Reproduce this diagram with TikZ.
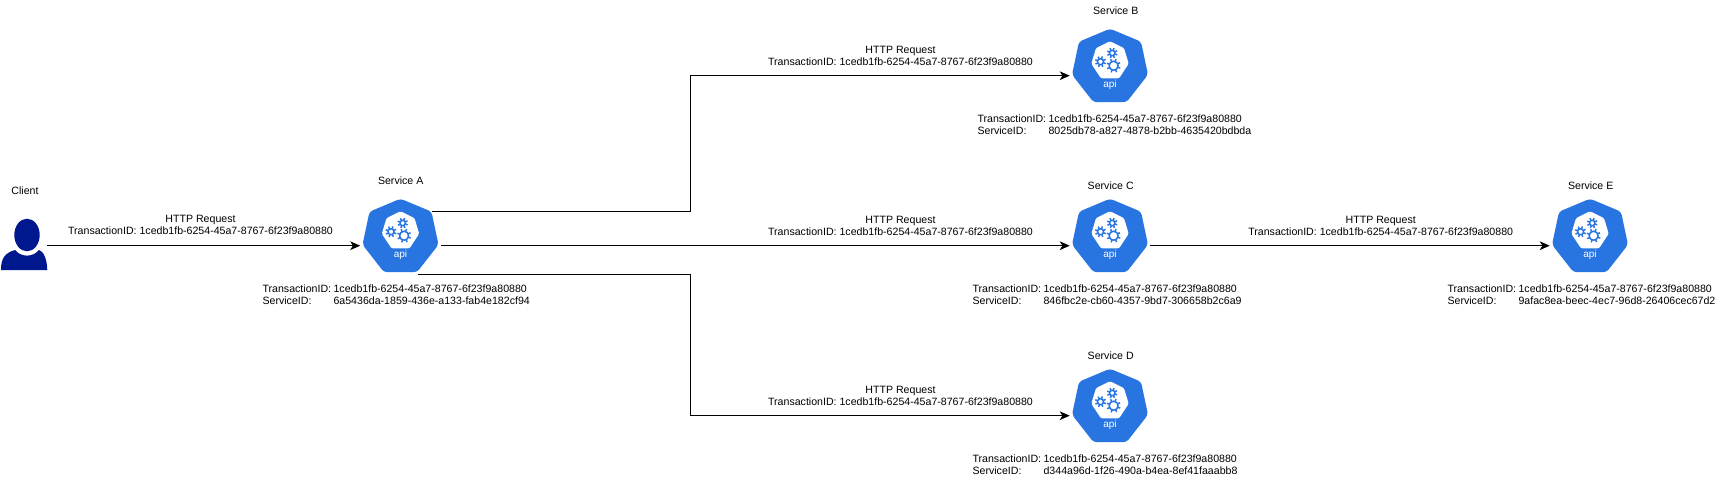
\documentclass[tikz,border=0pt]{standalone}
\usepackage{fontspec}
\usepackage{tkz-euclide}
\usetikzlibrary{arrows.meta}
\setmainfont{Liberation Sans}
\definecolor{apiblue}{HTML}{2875E2}
\definecolor{userblue}{HTML}{00188D}

\newcommand{\idlinha}[2]{\makebox[53.25pt][l]{#1}#2}
\newcommand{\idtrans}{1cedb1fb-6254-45a7-8767-6f23f9a80880}

\tikzset{
rotulo/.style={inner sep=0pt,font=\fontsize{7.95pt}{9pt}\selectfont,align=center},
idtabela/.style={inner sep=0pt,font=\fontsize{7.95pt}{9pt}\selectfont,align=left,anchor=north west},
servico/.style={inner sep=0pt,minimum width=60pt,minimum height=60pt},
seta/.style={draw=black,line width=0.75pt,-{Stealth[length=7.5pt,width=6.5pt,inset=2pt]}},
dente/.style={draw=apiblue,line width=1.1pt},
api/.pic={
 \fill[apiblue,rounded corners=2.5pt] (0,-47) -- (31,-34) -- (38,-1) -- (16.5,26.5) -- (-16.5,26.5) -- (-38,-1) -- (-31,-34) -- cycle;
 \fill[white,rounded corners=1pt] (0,-34.5) -- (14,-27.5) -- (18.7,-12) -- (9,2.7) -- (-9,2.7) -- (-18.7,-12) -- (-14,-27.5) -- cycle;
 \foreach \cx/\cy/\raio in {-9.5/-14/3,2.2/-22.7/2.7,3.6/-10/4.5}{
  \draw[dente] (\cx,\cy) circle (\raio);
  \foreach \ang in {0,45,...,315}
   \draw[dente] (\cx,\cy) ++(\ang+20:\raio) -- ++(\ang+20:2.6);
 }
 \node[text=white,inner sep=0pt,font=\fontsize{7.5pt}{9pt}\selectfont] (apitxt) at (0,9.7) {api};
}
}

\begin{document}
\begin{tikzpicture}[x=0.75pt,y=-0.75pt] %um pixel da referencia, com y para baixo
\useasboundingbox (0,0) rectangle (1726,481);

%Pontos de apoio: (x/y/NomedoPonto)
\tkzDefPoints{
400.5/245.7/pA,
1110/75.7/pB,
1110/245.7/pC,
1110/415.7/pD,
1590/245.7/pE,
47/245.7/cliente,
432/211/Asup,
418/274.7/Ainf,
690.7/75.7/dobraB,
690.7/415.7/dobraD}

%Servicos
\foreach \s in {A,B,C,D,E}{
 \pic at (p\s) {api};
 \node[servico] (\s) at (p\s) {};
}

%Titulos dos servicos
\foreach \s/\x/\y in {A/400.7/180.3,B/1115.7/10.7,C/1110.7/185.7,D/1110.7/355.7,E/1590.7/185.7}
 \node[rotulo] (titulo\s) at (\x,\y) {Service \s};

%Cliente
\fill[userblue] (27,235) ellipse (12.7 and 16.3);
\fill[userblue] (1,270) .. controls (1,258) and (5,253) .. (15,250) .. controls (21,257.5) and (33,257.5) .. (39,250) .. controls (43,251) and (47,258) .. (47.3,270) -- cycle;
\node[rotulo] (tituloCliente) at (25,190.7) {Client};

%Conexoes
%---------------------------------------------------
\draw[seta] (cliente) -- (A.west);
\draw[seta] (Asup) -| (dobraB) -- (B.west);
\draw[seta] (A.east) -- (C.west);
\draw[seta] (Ainf) -| (dobraD) -- (D.west);
\draw[seta] (C.east) -- (E.west);
%---------------------------------------------------

%Rotulos das conexoes
\foreach \nome/\x/\y in {cA/200.5/225,cB/900.5/55.7,cC/900.5/225.7,cD/900.5/395.7,cE/1380.7/225.7}
 \node[rotulo] (\nome) at (\x,\y) {HTTP Request\\TransactionID: \idtrans};

%Identificadores
\foreach \nome/\x/\y/\sid in {
 idA/262.3/285/6a5436da-1859-436e-a133-fab4e182cf94,
 idB/977.3/115/8025db78-a827-4878-b2bb-4635420bdbda,
 idC/972.3/285/846fbc2e-cb60-4357-9bd7-306658b2c6a9,
 idD/972.3/455/d344a96d-1f26-490a-b4ea-8ef41faaabb8,
 idE/1447.3/285/9afac8ea-beec-4ec7-96d8-26406cec67d2}
 \node[idtabela] (\nome) at (\x,\y) {\idlinha{TransactionID:}{\idtrans}\\\idlinha{ServiceID:}{\sid}};

\end{tikzpicture}
\end{document}
